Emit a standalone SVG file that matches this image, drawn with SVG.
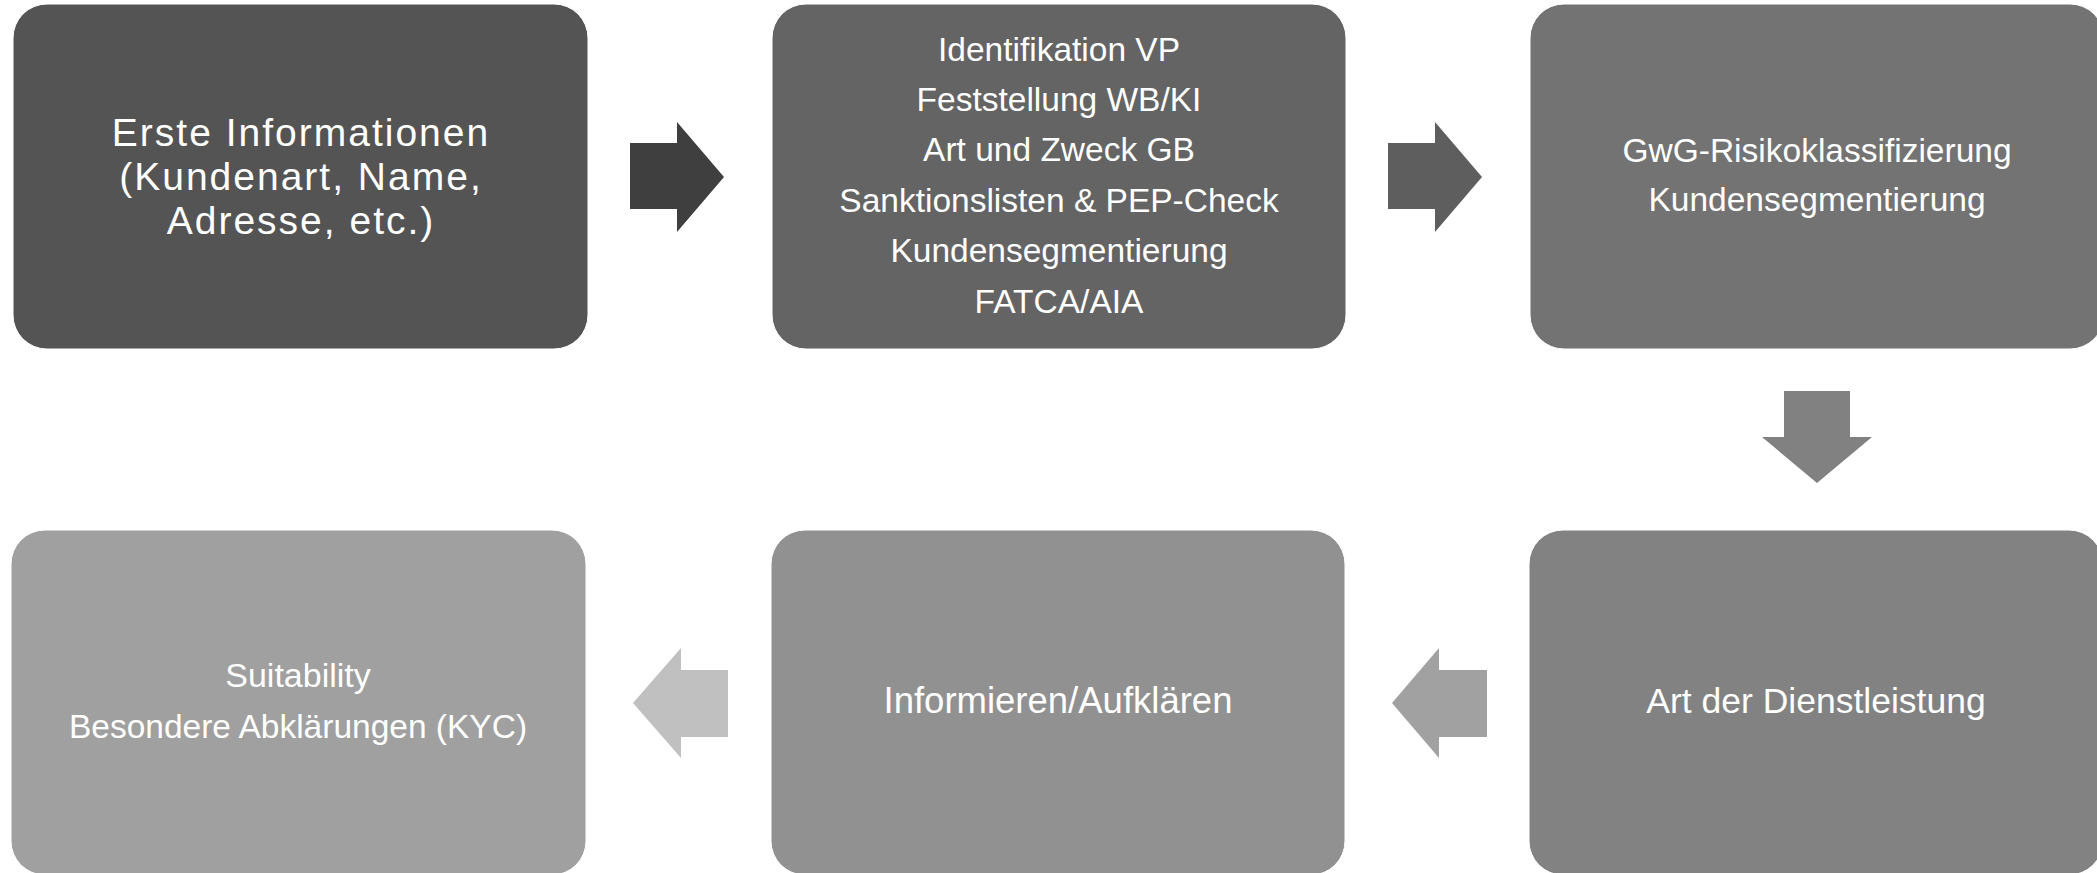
<svg xmlns="http://www.w3.org/2000/svg" width="2097" height="873" viewBox="0 0 2097 873">
<style>
.box{stroke:#ffffff;stroke-width:1}
.t{font-family:"Liberation Sans",Arial,sans-serif;fill:#ffffff;text-anchor:middle}
.big{font-size:39px;letter-spacing:2px}
.mid{font-size:33.5px}
.low{font-size:34px}
</style>
<rect width="2097" height="873" fill="#ffffff"/>
<g id="connectors">
<polygon points="630,143 677,143 677,122 724,177 677,232 677,209 630,209" fill="#3f3f3f"/>
<polygon points="1388,143 1435,143 1435,122 1482,177 1435,232 1435,209 1388,209" fill="#5e5e5e"/>
<polygon points="1784,391 1850,391 1850,437 1872,437 1817,483 1762,437 1784,437" fill="#818181"/>
<polygon points="1487,670 1439,670 1439,648 1392,703 1439,758 1439,737 1487,737" fill="#a1a1a1"/>
<polygon points="728,670 681,670 681,648 633,703 681,758 681,737 728,737" fill="#c0c0c0"/>
</g>
<g id="node1">
<rect class="box" x="13" y="4" width="575" height="345" rx="34" ry="34" fill="#545454"/>
<text class="t big" x="301" y="146">Erste Informationen</text>
<text class="t big" x="301" y="190">(Kundenart, Name,</text>
<text class="t big" x="301" y="234">Adresse, etc.)</text>
</g>
<g id="node2">
<rect class="box" x="772" y="4" width="574" height="345" rx="34" ry="34" fill="#646464"/>
<text class="t mid" x="1059" y="61">Identifikation VP</text>
<text class="t mid" x="1059" y="111">Feststellung WB/KI</text>
<text class="t mid" x="1059" y="161">Art und Zweck GB</text>
<text class="t mid" x="1059" y="212">Sanktionslisten &amp; PEP-Check</text>
<text class="t mid" x="1059" y="262">Kundensegmentierung</text>
<text class="t mid" x="1059" y="313">FATCA/AIA</text>
</g>
<g id="node3">
<rect class="box" x="1530" y="4" width="574" height="345" rx="34" ry="34" fill="#737373"/>
<text class="t mid" x="1817" y="162">GwG-Risikoklassifizierung</text>
<text class="t mid" x="1817" y="211">Kundensegmentierung</text>
</g>
<g id="node4">
<rect class="box" x="1529" y="530" width="574" height="345" rx="34" ry="34" fill="#828282"/>
<text class="t low" x="1816" y="713" style="font-size:35.5px">Art der Dienstleistung</text>
</g>
<g id="node5">
<rect class="box" x="771" y="530" width="574" height="345" rx="34" ry="34" fill="#919191"/>
<text class="t low" x="1058" y="713" style="font-size:36.5px">Informieren/Aufklären</text>
</g>
<g id="node6">
<rect class="box" x="11" y="530" width="575" height="345" rx="34" ry="34" fill="#a0a0a0"/>
<text class="t low" x="298" y="687">Suitability</text>
<text class="t low" x="298" y="738" style="font-size:33.5px">Besondere Abklärungen (KYC)</text>
</g>
</svg>
